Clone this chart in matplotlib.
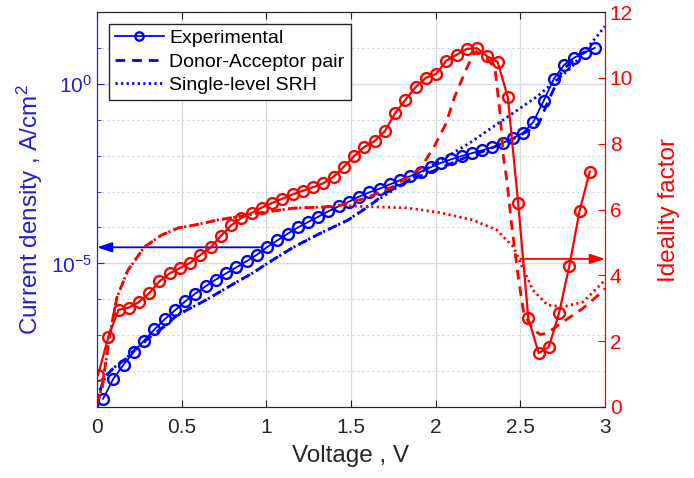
import numpy as np
import matplotlib
matplotlib.use("Agg")
import matplotlib.pyplot as plt
from matplotlib.ticker import FixedLocator, LogFormatterMathtext, NullFormatter

plt.rcParams['font.family'] = ['Liberation Sans', 'DejaVu Sans']
plt.rcParams['mathtext.fontset'] = 'custom'
plt.rcParams['mathtext.rm'] = 'Liberation Sans'
plt.rcParams['mathtext.it'] = 'Liberation Sans:italic'

# ---------------- data ----------------
# Experimental current density (log10 J, A/cm^2)
v_exp_j = [0.036, 0.097, 0.157, 0.218, 0.278, 0.339, 0.399, 0.460, 0.520, 0.581,
           0.641, 0.702, 0.762, 0.823, 0.883, 0.944, 1.004, 1.065, 1.125, 1.186,
           1.246, 1.307, 1.367, 1.428, 1.488, 1.549, 1.609, 1.670, 1.730, 1.791,
           1.851, 1.912, 1.972, 2.033, 2.093, 2.154, 2.214, 2.275, 2.335, 2.396,
           2.456, 2.517, 2.577, 2.638, 2.698, 2.759, 2.819, 2.880, 2.940]
logj_exp = [-8.77, -8.21, -7.82, -7.46, -7.15, -6.84, -6.56, -6.31, -6.06, -5.84,
            -5.64, -5.45, -5.28, -5.11, -4.94, -4.76, -4.55, -4.36, -4.18, -4.00,
            -3.85, -3.70, -3.55, -3.41, -3.28, -3.14, -3.02, -2.92, -2.80, -2.68,
            -2.57, -2.45, -2.32, -2.20, -2.10, -2.01, -1.93, -1.85, -1.77, -1.65,
            -1.51, -1.37, -1.06, -0.47, 0.14, 0.53, 0.73, 0.87, 1.00]

# Experimental ideality factor
v_exp_n = [0.006, 0.067, 0.127, 0.188, 0.248, 0.309, 0.369, 0.430, 0.490, 0.550,
           0.611, 0.672, 0.732, 0.793, 0.853, 0.914, 0.974, 1.035, 1.095, 1.156,
           1.216, 1.277, 1.337, 1.398, 1.458, 1.519, 1.579, 1.640, 1.700, 1.760,
           1.821, 1.882, 1.942, 2.003, 2.063, 2.124, 2.184, 2.245, 2.305, 2.366,
           2.426, 2.487, 2.547, 2.608, 2.668, 2.729, 2.789, 2.850, 2.910]
n_exp = [0.97, 2.13, 2.95, 3.02, 3.19, 3.46, 3.82, 4.06, 4.22, 4.38,
         4.62, 4.85, 5.20, 5.52, 5.74, 5.90, 6.06, 6.20, 6.33, 6.46,
         6.57, 6.68, 6.80, 7.00, 7.30, 7.62, 7.90, 8.08, 8.38, 8.92,
         9.33, 9.72, 10.00, 10.12, 10.52, 10.70, 10.88, 10.90, 10.65, 10.48,
         9.42, 6.20, 2.70, 1.64, 1.82, 2.86, 4.28, 5.96, 7.15]

# Donor-Acceptor pair model: current density
v_da_j = [0.003, 0.02, 0.05, 0.10, 0.16, 0.22, 0.30, 0.40, 0.47, 0.64, 0.77, 0.915,
          1.04, 1.16, 1.32, 1.48, 1.61, 1.70, 1.85, 2.00, 2.15, 2.30, 2.45, 2.55,
          2.61, 2.66, 2.75, 2.85, 2.93]
logj_da = [-9.0, -8.5, -8.15, -7.9, -7.7, -7.42, -7.1, -6.75, -6.45, -6.03, -5.67, -5.28,
           -4.90, -4.55, -4.16, -3.80, -3.40, -3.05, -2.68, -2.40, -2.10, -1.85, -1.55, -1.30,
           -1.10, -0.53, 0.39, 0.81, 0.98]

# Single-level SRH model: current density
v_srh_j = [0.003, 0.02, 0.05, 0.10, 0.16, 0.22, 0.30, 0.40, 0.47, 0.64, 0.77, 0.915,
           1.04, 1.16, 1.32, 1.48, 1.61, 1.90, 2.20, 2.40, 2.60, 2.80, 3.00]
logj_srh = [-9.0, -8.5, -8.15, -7.9, -7.7, -7.42, -7.1, -6.75, -6.45, -6.03, -5.67, -5.28,
            -4.90, -4.55, -4.16, -3.80, -3.38, -2.50, -1.65, -1.00, -0.35, 0.45, 1.60]

# Donor-Acceptor pair model: ideality factor
v_da_n = [0.0, 0.03, 0.077, 0.118, 0.183, 0.28, 0.38, 0.48, 0.58, 0.71, 0.82, 0.99,
          1.16, 1.36, 1.43, 1.59, 1.75, 1.91, 1.99, 2.06, 2.11, 2.17, 2.22, 2.24,
          2.30, 2.35, 2.38, 2.40, 2.42, 2.45, 2.49, 2.52, 2.575, 2.62, 2.66, 2.75,
          2.87, 2.96, 3.00]
n_da = [0.1, 0.6, 2.25, 3.34, 4.16, 4.86, 5.22, 5.44, 5.53, 5.68, 5.77, 5.92,
        6.04, 6.08, 6.12, 6.35, 6.70, 7.25, 7.90, 8.60, 9.40, 10.14, 10.70, 10.80,
        10.60, 10.30, 8.93, 7.60, 6.90, 5.47, 3.86, 2.86, 2.34, 2.20, 2.25, 2.58,
        3.00, 3.40, 3.60]

# Single-level SRH model: ideality factor
v_srh_n = [0.0, 0.03, 0.077, 0.118, 0.183, 0.28, 0.38, 0.48, 0.58, 0.71, 0.82, 0.99,
           1.16, 1.36, 1.43, 1.63, 1.83, 2.03, 2.22, 2.36, 2.46, 2.52, 2.575, 2.66,
           2.75, 2.87, 2.97, 3.00]
n_srh = [0.1, 0.6, 2.25, 3.34, 4.16, 4.86, 5.22, 5.44, 5.53, 5.68, 5.77, 5.92,
         6.04, 6.08, 6.12, 6.08, 6.05, 5.90, 5.68, 5.38, 4.86, 4.16, 3.55, 3.10,
         3.04, 3.19, 3.70, 3.85]

legend_labels = ['Experimental', 'Donor-Acceptor pair', 'Single-level SRH']
x_ticks = [0, 0.5, 1, 1.5, 2, 2.5, 3]
n_ticks = [0, 2, 4, 6, 8, 10, 12]
arrow_j = 2.8e-5
arrow_n = 4.5

# ---------------- style ----------------
BLUE = '#0000ff'
BLUE_T = '#2222cc'
RED = '#ff0000'
DARK = '#262626'

fig = plt.figure(figsize=(6.94, 4.78), dpi=100)
ax = fig.add_axes([97/694, 1 - 407/478, (605-97)/694, (407-12)/478])
ax2 = ax.twinx()

j_exp = 10.0 ** np.array(logj_exp)
j_da = 10.0 ** np.array(logj_da)
j_srh = 10.0 ** np.array(logj_srh)

l1, = ax.plot(v_exp_j, j_exp, '-o', color=BLUE, lw=1.3, ms=7.8, mfc='none', mew=1.7)
l2, = ax.plot(v_da_j, j_da, '--', color=BLUE, lw=2.0, dashes=(3.5, 2.5))
l3, = ax.plot(v_srh_j, j_srh, ':', color=BLUE, lw=2.0, dashes=(0.8, 1.2))

ax2.plot(v_exp_n, n_exp, '-o', color=RED, lw=1.6, ms=7.8, mfc='none', mew=1.7)
ax2.plot(v_da_n, n_da, '--', color=RED, lw=2.0, dashes=(3.5, 2.5))
ax2.plot(v_srh_n, n_srh, ':', color=RED, lw=2.0, dashes=(0.8, 1.2))

ax.set_yscale('log')
ax.set_xlim(0, 3)
ax.set_ylim(1e-9, 1e2)
ax2.set_ylim(0, 12)

ax.set_xticks(x_ticks)
ax.set_xticklabels([('%g' % t) for t in x_ticks])
ax.yaxis.set_major_locator(FixedLocator([1e-5, 1e0]))
ax.yaxis.set_major_formatter(LogFormatterMathtext())
ax.yaxis.set_minor_locator(FixedLocator([10.0 ** k for k in range(-9, 3)]))
ax.yaxis.set_minor_formatter(NullFormatter())
ax2.set_yticks(n_ticks)

ax.grid(True, which='major', axis='x', color='#d9d9d9', lw=0.9, ls='-')
ax.grid(True, which='major', axis='y', color='#d6d6f5', lw=0.9, ls='-')
ax.grid(True, which='minor', axis='y', color='#cfcfdc', lw=0.9, ls=(0, (1.5, 2.5)))
ax.set_axisbelow(True)

ax.tick_params(axis='x', which='both', direction='in', top=True, labelsize=15,
               colors=DARK, length=5, pad=8)
ax.tick_params(axis='y', which='major', direction='in', colors=BLUE_T, labelsize=15,
               length=5, right=False)
ax.tick_params(axis='y', which='minor', direction='in', colors=BLUE_T, length=3, right=False)
ax2.tick_params(axis='y', direction='in', colors=RED, labelsize=15, length=5)

for a in (ax, ax2):
    a.spines['top'].set_color(DARK)
    a.spines['bottom'].set_color(DARK)
    a.spines['left'].set_color(BLUE_T)
    a.spines['right'].set_color(RED)

ax.set_xlabel('Voltage , V', fontsize=17.5, color=DARK, labelpad=6)
ax.set_ylabel('Current density , A/cm$^2$', fontsize=17.5, color=BLUE_T, labelpad=4)
ax2.set_ylabel('Ideality factor', fontsize=17.5, color=RED, labelpad=18)

ax.annotate('', xy=(0.0, arrow_j), xytext=(0.975, arrow_j),
            arrowprops=dict(arrowstyle='-|>,head_length=0.9,head_width=0.3',
                            color=BLUE, lw=1.3, shrinkA=0, shrinkB=0))
ax2.annotate('', xy=(3.0, arrow_n), xytext=(2.5, arrow_n),
             arrowprops=dict(arrowstyle='-|>,head_length=0.9,head_width=0.3',
                             color=RED, lw=1.3, shrinkA=0, shrinkB=0))

leg = ax2.legend([l1, l2, l3], legend_labels, loc='upper left',
                 bbox_to_anchor=(0.024, 0.97), fontsize=14, frameon=True,
                 fancybox=False, edgecolor=DARK, framealpha=1, handlelength=2.5,
                 handletextpad=0.3, borderpad=0.3, labelspacing=0.3, numpoints=1,
                 borderaxespad=0)
leg.get_frame().set_linewidth(1.0)
for h in leg.get_lines():
    h.set_markersize(6)

fig.savefig('out.png', dpi=100)
